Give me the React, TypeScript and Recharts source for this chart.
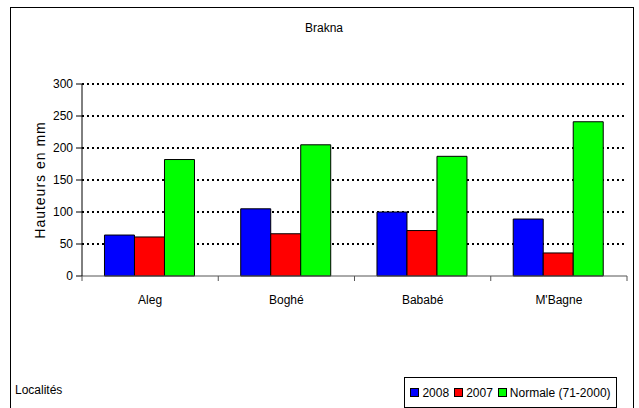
import { Bar, BarChart, CartesianGrid, XAxis, YAxis } from "recharts"

const localites = ["Aleg", "Boghé", "Bababé", "M'Bagne"]
const serie2008 = [64, 105, 100, 89]
const serie2007 = [61, 66, 71, 36]
const normale = [182, 205, 187, 241]
const yTicks = [0, 50, 100, 150, 200, 250, 300]
const gridValues = [50, 100, 150, 200, 250, 300]

const series = [
  { key: "s2008", name: "2008", color: "#0000ff" },
  { key: "s2007", name: "2007", color: "#ff0000" },
  { key: "normale", name: "Normale (71-2000)", color: "#00ff00" },
]

const data = localites.map((name, i) => ({
  name,
  s2008: serie2008[i],
  s2007: serie2007[i],
  normale: normale[i],
}))

const font = "'Liberation Sans', Arial, sans-serif"
const TICK_SIZE = 5
const TICK_MARGIN = 14

// category label + tick marks on the band boundaries (Excel style)
function CategoryTick(props: any) {
  const { x, y, payload, index, visibleTicksCount } = props
  const half = payload.offset ?? 0
  const axisY = y - TICK_SIZE - TICK_MARGIN
  const left = x - half
  const right = x + half
  return (
    <g>
      <line x1={left} x2={left} y1={axisY} y2={axisY + TICK_SIZE} stroke="#555" />
      {index === visibleTicksCount - 1 && (
        <line x1={right} x2={right} y1={axisY} y2={axisY + TICK_SIZE} stroke="#555" />
      )}
      <text x={x} y={y} dy="0.71em" textAnchor="middle" fontSize={12} fill="#000">
        {payload.value}
      </text>
    </g>
  )
}

export default function App() {
  return (
    <div
      style={{
        position: "absolute",
        left: 0,
        top: 0,
        width: 639,
        height: 408,
        overflow: "hidden",
        background: "#fff",
        fontFamily: font,
      }}
    >
      <div
        style={{
          position: "absolute",
          left: 10,
          top: 7,
          width: 622,
          height: 440,
          border: "1px solid #000",
        }}
      />
      <div
        style={{
          position: "absolute",
          left: 0,
          width: 648,
          top: 21,
          textAlign: "center",
          fontSize: 12,
          color: "#000",
        }}
      >
        Brakna
      </div>
      <div style={{ position: "absolute", left: 0, top: 0 }}>
        <BarChart
          width={639}
          height={408}
          data={data}
          margin={{ top: 84, right: 12, left: 22, bottom: 102 }}
          barCategoryGap="16.5%"
          barGap={0}
          style={{ fontFamily: font }}
        >
          <CartesianGrid
            vertical={false}
            horizontalValues={gridValues}
            stroke="#000"
            strokeWidth={2}
            strokeDasharray="2 3"
          />
          <XAxis
            dataKey="name"
            height={30}
            axisLine={{ stroke: "#555" }}
            tickLine={false}
            tickSize={TICK_SIZE}
            tickMargin={TICK_MARGIN}
            tick={<CategoryTick />}
            interval={0}
          />
          <YAxis
            width={60}
            domain={[0, 300]}
            ticks={yTicks}
            interval={0}
            axisLine={{ stroke: "#000" }}
            tickLine={{ stroke: "#000" }}
            tickSize={6}
            tickMargin={3}
            tick={{ fill: "#000", fontSize: 12 }}
            label={{
              content: ({ viewBox }: any) => (
                <text
                  x={viewBox.x + 18}
                  y={viewBox.y + viewBox.height / 2}
                  transform={`rotate(-90 ${viewBox.x + 18} ${viewBox.y + viewBox.height / 2})`}
                  textAnchor="middle"
                  dominantBaseline="central"
                  fontSize={14}
                  letterSpacing={1}
                  fill="#000"
                >
                  Hauteurs en mm
                </text>
              ),
            }}
          />
          {series.map((s) => (
            <Bar
              key={s.key}
              dataKey={s.key}
              name={s.name}
              fill={s.color}
              stroke="#000"
              strokeWidth={1}
              isAnimationActive={false}
            />
          ))}
        </BarChart>
      </div>
      <div
        style={{
          position: "absolute",
          left: 15,
          top: 383,
          fontSize: 12,
          color: "#000",
        }}
      >
        Localités
      </div>
      <div
        style={{
          position: "absolute",
          left: 404,
          top: 377,
          width: 211,
          height: 29,
          border: "1px solid #000",
          display: "flex",
          alignItems: "center",
          justifyContent: "center",
          gap: 5,
          fontSize: 12,
          color: "#000",
        }}
      >
        {series.map((s) => (
          <span key={s.key} style={{ display: "flex", alignItems: "center", gap: 3 }}>
            <span
              style={{
                display: "inline-block",
                width: 7,
                height: 7,
                background: s.color,
                border: "1px solid #000",
              }}
            />
            {s.name}
          </span>
        ))}
      </div>
    </div>
  )
}
